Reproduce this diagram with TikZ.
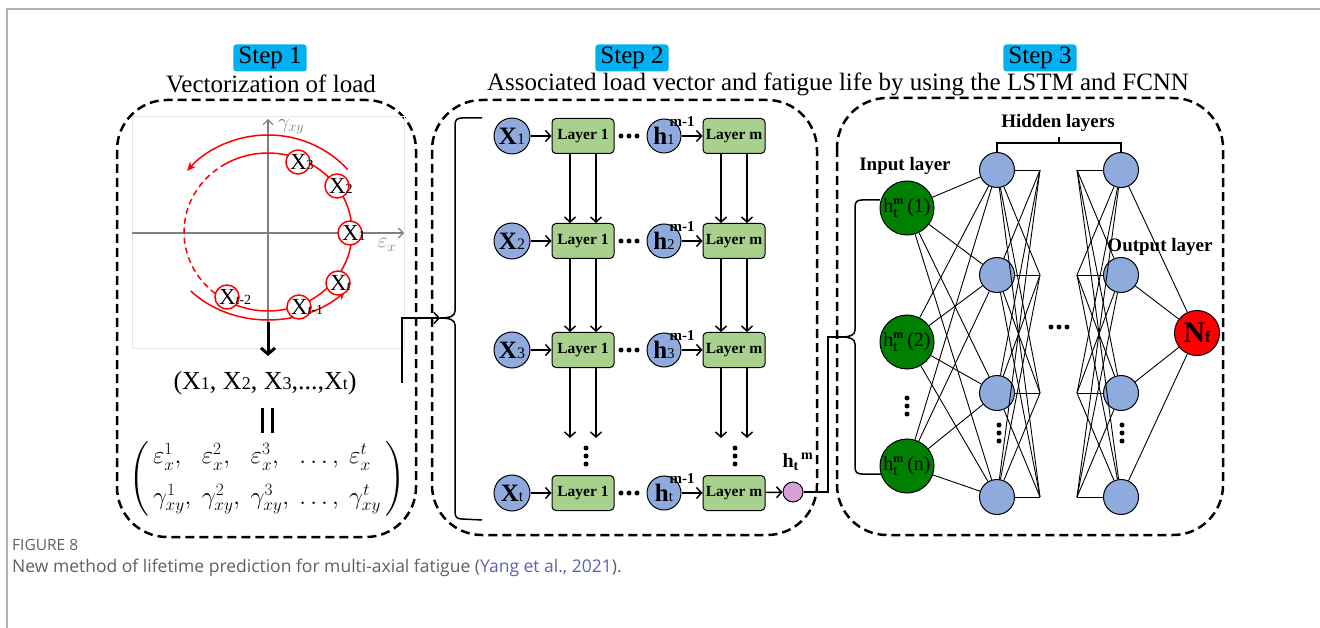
\documentclass[tikz,border=0pt]{standalone}
\usepackage{amsmath}
\usepackage{fontspec}
\setmainfont{Liberation Serif}
\newfontfamily\capfont{Open Sans}
\usetikzlibrary{arrows.meta,calc}
\definecolor{stepblue}{RGB}{0,176,240}
\definecolor{nodeblue}{RGB}{143,170,220}
\definecolor{layergreen}{RGB}{169,209,142}
\definecolor{inpgreen}{RGB}{0,128,0}
\definecolor{htpink}{RGB}{214,160,214}
\definecolor{capgrey}{RGB}{95,95,95}
\definecolor{citeblue}{RGB}{95,95,175}
\newcommand{\fs}[1]{\fontsize{#1}{#1}\selectfont}
\newcommand{\ptx}[1]{\makebox[0pt][l]{\hspace{-8pt}X{\fs{14}#1}}}
\newcommand{\hmt}[1]{$\text{h}^{\text{\fs{12}\bfseries m}}_{\text{\fs{15}t}}$\,#1}

\begin{document}
\begin{tikzpicture}[x=1pt,y=-1pt,
  dashbox/.style={line width=2.5pt, dash pattern=on 9pt off 5pt, rounded corners=50pt},
  steplbl/.style={fill=stepblue, rounded corners=3pt, inner xsep=5pt, inner ysep=1pt, minimum height=27pt, font=\fs{25}},
  ttl/.style={font=\fs{25}},
  redpt/.style={circle, draw=red, line width=1.5pt, fill=white, minimum size=24pt, inner sep=0pt, font=\fs{23}},
  xin/.style={circle, draw, line width=1pt, fill=nodeblue, minimum size=36pt, inner sep=0pt, font=\fs{25}},
  layer/.style={rectangle, rounded corners=4pt, draw, line width=1pt, fill=layergreen, minimum width=62pt, minimum height=35pt, inner sep=0pt, font=\fs{15.5}\bfseries},
  hin/.style={circle, draw, line width=1pt, fill=nodeblue, minimum size=34pt, inner sep=0pt, font=\fs{25}},
  sup/.style={font=\fs{15}\bfseries, inner sep=0pt},
  arr/.style={line width=1.5pt, -{Straight Barb[length=5pt,width=11pt]}},
  inode/.style={circle, draw, line width=1pt, fill=inpgreen, minimum size=54pt, inner sep=0pt, font=\fs{20}},
  hnode/.style={circle, draw, line width=1pt, fill=nodeblue, minimum size=35pt, inner sep=0pt},
  nnline/.style={line width=0.9pt},
  bold/.style={font=\fs{19}\bfseries}
]
\useasboundingbox (0,0) rectangle (1320,628);
\draw[gray!60, line width=1.5pt] (7,628) -- (7,9) -- (1320,9);

\node[steplbl] (s1) at (270,58) {Step 1};
\node[ttl] (t1) at (271,84) {Vectorization of load};
\node[steplbl] (s2) at (632,58) {Step 2};
\node[ttl] (t2) at (838,84) {Associated load vector and fatigue life by using the LSTM and FCNN};
\node[steplbl] (s3) at (1040,58) {Step 3};

\draw[dashbox] (117,100) rectangle (416,537);
\draw[dashbox] (432,100) rectangle (817,535);
\draw[dashbox] (837,98) rectangle (1223,535);

% step 1
\draw[gray!20, line width=1pt] (132,117) rectangle (404,348);
\draw[gray, line width=1.2pt, -{Straight Barb[length=5pt,width=10pt]}] (132,233) -- (404,233);
\draw[gray, line width=1.2pt, -{Straight Barb[length=5pt,width=10pt]}] (268,348) -- (268,119);
\node[gray, font=\fs{21}] (gy) at (291,127) {$\gamma_{xy}$};
\node[gray, font=\fs{21}] (ex) at (387,245) {$\varepsilon_x$};
\coordinate (o) at (268,232);
\draw[red, line width=1.5pt] (o) ++(-235:84 and 79) arc[start angle=-235, end angle=-480, x radius=84, y radius=79];
\draw[red, line width=1.5pt, dash pattern=on 6pt off 4pt] (o) ++(-120:84 and 79) arc[start angle=-120, end angle=-235, x radius=84, y radius=79];
\draw[red, line width=1.5pt, -{Stealth[length=9pt,width=8pt]}] (o) ++(-40:104 and 97) arc[start angle=-40, end angle=-141, x radius=104, y radius=97];
\draw[red, line width=1.5pt, -{Stealth[length=9pt,width=8pt]}] (o) ++(-222:104 and 88) arc[start angle=-222, end angle=-318, x radius=104, y radius=88];
\node[redpt] (p1) at (350,233) {\ptx{1}};
\node[redpt] (p2) at (337,186) {\ptx{2}};
\node[redpt] (p3) at (298,162) {\ptx{3}};
\node[redpt] (pt) at (338,283) {\ptx{\itshape t}};
\node[redpt] (pt1) at (299,307) {\ptx{{\itshape t}-1}};
\node[redpt] (pt2) at (227,297) {\ptx{{\itshape t}-2}};
\coordinate (aw) at (268,322);
\draw[line width=3pt, -{Straight Barb[length=6pt,width=14pt]}] (aw) -- ++(0,34);
\node[font=\fs{26}] (vec) at (265,383) {(X{\fs{18}1}, X{\fs{18}2}, X{\fs{18}3},...,X{\fs{18}t})};
\draw[line width=3pt] (262,408) -- (262,433) (272,408) -- (272,433);
\node[font=\fs{25}] (mat) at (267,479) {$\left(\begin{array}{@{\,}l@{\ \,}l@{\ \,}l@{\ \,}l@{\ \,}l@{\,}}
  \varepsilon_x^1, & \varepsilon_x^2, & \varepsilon_x^3, & \dots, & \varepsilon_x^t \\[13pt]
  \gamma_{xy}^1, & \gamma_{xy}^2, & \gamma_{xy}^3, & \dots, & \gamma_{xy}^t
  \end{array}\right)$};
\coordinate (c1) at (402,383);
\coordinate (b2) at (440,318);
\draw[line width=1.5pt, -{Straight Barb[length=5pt,width=11pt]}] (c1) -- (c1 |- b2) -- (b2);

% step 2
\draw[line width=1.5pt] (482,118) -- (462,118) .. controls (457,118) and (455,120) .. (455,125) -- (455,311)
  .. controls (455,316) and (450,318) .. (b2) .. controls (450,318) and (455,320) .. (455,325) -- (455,512)
  .. controls (455,517) and (457,519) .. (462,519) -- (482,520);
\foreach \r/\yy in {1/136, 2/241, 3/350, t/493} {
  \node[xin] (x\r) at (512,\yy) {\textbf{X}{\fs{16}\r}};
  \node[layer] (la\r) at (583,\yy) {Layer 1};
  \node[hin] (h\r) at (664,\yy) {\textbf{h}{\fs{15}\r}};
  \node[layer] (lm\r) at (734,\yy) {Layer m};
  \node[sup] (hs\r) at (682,\yy-14) {m-1};
  \draw[arr] (x\r) -- (la\r);
  \draw[arr] (h\r) -- (lm\r);
  \foreach \dx in {621,629,637} \fill (\dx,\yy) circle (2.5pt);
}
\foreach \a/\b in {1/2, 2/3} {
  \draw[arr] ([xshift=-13pt]la\a.south) -- ([xshift=-13pt]la\b.north);
  \draw[arr] ([xshift=13pt]la\a.south) -- ([xshift=13pt]la\b.north);
  \draw[arr] ([xshift=-13pt]lm\a.south) -- ([xshift=-13pt]lm\b.north);
  \draw[arr] ([xshift=13pt]lm\a.south) -- ([xshift=13pt]lm\b.north);
}
\foreach \dx in {-13,13} {
  \draw[arr] ([xshift=\dx pt]la3.south) -- ++(0,70);
  \draw[arr] ([xshift=\dx pt]lm3.south) -- ++(0,70);
}
\foreach \yy in {448,456,464} {
  \fill (586,\yy) circle (2.5pt);
  \fill (735,\yy) circle (2.5pt);
}
\node[circle, draw, line width=1pt, fill=htpink, minimum size=20pt, inner sep=0pt] (hm) at (793,492) {};
\draw[arr] (lmt) -- (hm);
\node[font=\fs{20}\bfseries] (hml) at (798,462) {h\textsubscript{t}\textsuperscript{\,m}};
\coordinate (c2) at (828,337);
\coordinate (b3) at (842,337);
\draw[line width=1.5pt] (hm) -- (hm -| c2) -- (c2) -- (b3);

% step 3
\draw[line width=1.5pt] (880,200) -- (862,200) .. controls (857,200) and (855,202) .. (855,207) -- (855,330)
  .. controls (855,335) and (850,337) .. (b3) .. controls (850,337) and (855,339) .. (855,344) -- (855,467)
  .. controls (855,472) and (857,474) .. (862,474) -- (882,474);
\foreach \i/\yy/\lb in {1/208/(1), 2/342/(2), n/466/(n)}
  \node[inode] (in\i) at (907,\yy) {\hmt{\lb}};
\foreach \j/\yy in {1/170, 2/275, 3/393, 4/497} {
  \node[hnode] (ha\j) at (997,\yy) {};
  \node[hnode] (hb\j) at (1121,\yy) {};
  \coordinate (va\j) at (1040,\yy);
  \coordinate (vb\j) at (1077,\yy);
}
\node[circle, draw, line width=1pt, fill=red, minimum size=45pt, inner sep=0pt] (nf) at (1197,333) {\fs{30}\textbf{N}{\fs{16}\bfseries f}};
\foreach \i in {1,2,n}
  \foreach \j in {1,...,4}
    \draw[nnline] (in\i) -- (ha\j);
\foreach \j in {1,...,4} {
  \foreach \k in {1,...,4} {
    \draw[nnline] (ha\j) -- (va\k);
    \draw[nnline] (vb\k) -- (hb\j);
  }
  \draw[nnline] (hb\j) -- (nf);
}
\coordinate (hbr) at (1059,143);
\draw[line width=1.2pt] (ha1.north) -- (ha1.north |- hbr) -- (hb1.north |- hbr) -- (hb1.north);
\draw[line width=1.2pt] (hbr) -- ++(0,-6);
\node[bold] (hl) at (1058,123) {Hidden layers};
\node[bold] (il) at (905,166) {Input layer};
\node[bold] (ol) at (1160,247) {Output layer};
\foreach \yy in {398,406,414} \fill (907,\yy) circle (2.5pt);
\foreach \yy in {425,433,441} {
  \fill (999,\yy) circle (2.5pt);
  \fill (1122,\yy) circle (2.5pt);
}
\foreach \dx in {1051,1059,1067} \fill (\dx,327) circle (2.5pt);

\node[anchor=base west, font=\capfont\fs{15.5}, text=capgrey, inner sep=0pt] (fig) at (12,550) {FIGURE 8};
\node[anchor=base west, font=\capfont\fs{17.5}, text=capgrey, inner sep=0pt] (cap) at (12,572) {New method of lifetime prediction for multi-axial fatigue (\textcolor{citeblue}{Yang et al., 2021}).};
\end{tikzpicture}
\end{document}
